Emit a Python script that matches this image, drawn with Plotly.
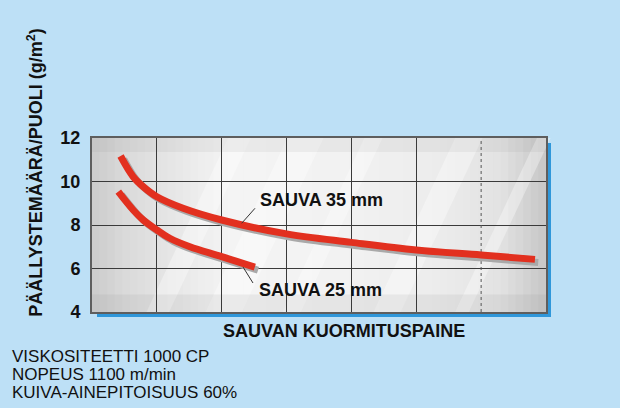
import plotly.graph_objects as go

s35_x = [0.44, 0.635, 0.79, 1.0, 1.405, 2.0, 3.0, 4.0, 5.0, 6.0, 6.83]
s35_y = [11.17, 10.22, 9.76, 9.30, 8.77, 8.23, 7.59, 7.20, 6.85, 6.62, 6.42]
s25_x = [0.405, 0.635, 0.79, 1.0, 1.2, 1.51, 2.0, 2.51]
s25_y = [9.53, 8.69, 8.23, 7.77, 7.39, 7.00, 6.55, 6.06]

y_ticks = [4, 6, 8, 10, 12]
x_grid = [1, 2, 3, 4, 5]

label_35 = "SAUVA 35 mm"
label_25 = "SAUVA 25 mm"
x_title = "SAUVAN KUORMITUSPAINE"
y_title = "PÄÄLLYSTEMÄÄRÄ/PUOLI (g/m<sup>2</sup>)"
notes = ["VISKOSITEETTI 1000 CP", "NOPEUS 1100 m/min", "KUIVA-AINEPITOISUUS 60%"]

FONT = "Arial, Liberation Sans, sans-serif"
BG = "#BDE0F6"
RED = "#E2301F"

fig = go.Figure()

# grey drop shadow under each curve
for xs, ys in [(s35_x, s35_y), (s25_x, s25_y)]:
    fig.add_trace(go.Scatter(x=[v + 0.05 for v in xs], y=[v - 0.14 for v in ys],
                             mode="lines", line=dict(color="#A9A9A9", width=7, shape="spline"),
                             hoverinfo="skip", showlegend=False))
for xs, ys in [(s35_x, s35_y), (s25_x, s25_y)]:
    fig.add_trace(go.Scatter(x=xs, y=ys, mode="lines",
                             line=dict(color=RED, width=7, shape="spline"),
                             showlegend=False))

shapes = []
# blue shadow of the plot panel (5px right/down)
shapes.append(dict(type="rect", xref="paper", yref="paper",
                   x0=5 / 454, x1=1 + 5 / 454, y0=-5 / 174, y1=1 - 5 / 174,
                   fillcolor="#2F97DA", line=dict(width=0), layer="below"))

# metallic grey panel: vertical strips
stops = [(0.0, 0.80), (0.08, 0.86), (0.3, 0.96), (0.55, 0.95), (0.75, 0.93), (0.9, 0.89), (1.0, 0.78)]
n = 60
for i in range(n):
    t = (i + 0.5) / n
    for (a, va), (b, vb) in zip(stops[:-1], stops[1:]):
        if a <= t <= b:
            v = va + (vb - va) * (t - a) / (b - a)
            break
    g = int(255 * v)
    shapes.append(dict(type="rect", xref="paper", yref="paper",
                       x0=i / n, x1=(i + 1) / n + 0.002, y0=0, y1=1,
                       fillcolor=f"rgb({g},{g},{g})", line=dict(width=0), layer="below"))

# soft diagonal highlights
for x0, w in [(0.12, 0.05), (0.25, 0.08), (0.42, 0.04), (0.62, 0.06), (0.8, 0.03)]:
    shapes.append(dict(type="path", xref="paper", yref="paper",
                       path=f"M {x0},0 L {x0 + w},0 L {x0 + w + 0.18},1 L {x0 + 0.18},1 Z",
                       fillcolor="white", opacity=0.35, line=dict(width=0), layer="below"))
# darker bands top and bottom
shapes.append(dict(type="rect", xref="paper", yref="paper", x0=0, x1=1, y0=0, y1=0.1,
                   fillcolor="#888888", opacity=0.12, line=dict(width=0), layer="below"))
shapes.append(dict(type="rect", xref="paper", yref="paper", x0=0, x1=1, y0=0.92, y1=1,
                   fillcolor="#888888", opacity=0.10, line=dict(width=0), layer="below"))

# dotted grid line at x = 6
shapes.append(dict(type="line", xref="x", yref="y", x0=6, x1=6, y0=4, y1=12,
                   line=dict(color="#555555", width=1, dash="dot"), layer="between"))

# leader lines for the labels
shapes.append(dict(type="line", xref="paper", yref="paper", x0=0.3297, y0=0.5098, x1=0.359, y1=0.596,
                   line=dict(color="#333333", width=1)))
shapes.append(dict(type="line", xref="paper", yref="paper", x0=0.3326, y0=0.2586, x1=0.3546, y1=0.1667,
                   line=dict(color="#333333", width=1)))

annotations = [
    dict(text=label_35, x=0.3656, y=0.6437, xanchor="left", yanchor="middle"),
    dict(text=label_25, x=0.3634, y=0.1264, xanchor="left", yanchor="middle"),
    dict(text=x_title, x=0.555, y=-0.109, xanchor="center", yanchor="middle"),
    dict(text=y_title, x=-0.125, y=0.802, xanchor="center", yanchor="middle", textangle=-90),
]
for a in annotations:
    a.update(xref="paper", yref="paper", showarrow=False,
             font=dict(family=FONT, size=18, color="#111111", weight="bold"))

# three note lines, 18px apart
for i, line in enumerate(notes):
    annotations.append(dict(text=line, xref="paper", yref="paper", x=-0.1806,
                            y=(312 - 356 - 18 * i) / 174,
                            xanchor="left", yanchor="middle", showarrow=False,
                            font=dict(family=FONT, size=17, color="#111111")))

fig.update_layout(
    width=620, height=408, autosize=False,
    margin=dict(l=92, r=74, t=138, b=96),
    paper_bgcolor=BG, plot_bgcolor="rgba(0,0,0,0)",
    shapes=shapes, annotations=annotations,
    xaxis=dict(range=[0, 7], tickvals=x_grid, showticklabels=False, ticks="",
               showgrid=True, gridcolor="#3A3A3A", gridwidth=1, zeroline=False,
               showline=True, mirror=True, linecolor="#5E5E5E", linewidth=2),
    yaxis=dict(range=[4, 12], tickvals=y_ticks, ticks="", ticklabelstandoff=6,
               tickfont=dict(family=FONT, size=18, color="#111111", weight="bold"),
               showgrid=True, gridcolor="#3A3A3A", gridwidth=1, zeroline=False,
               showline=True, mirror=True, linecolor="#5E5E5E", linewidth=2),
)

# page has a default body margin, drop it so the figure sits at 0,0
fig.write_html("out.html", config={"displayModeBar": False},
               post_script="document.body.style.margin='0px';")
